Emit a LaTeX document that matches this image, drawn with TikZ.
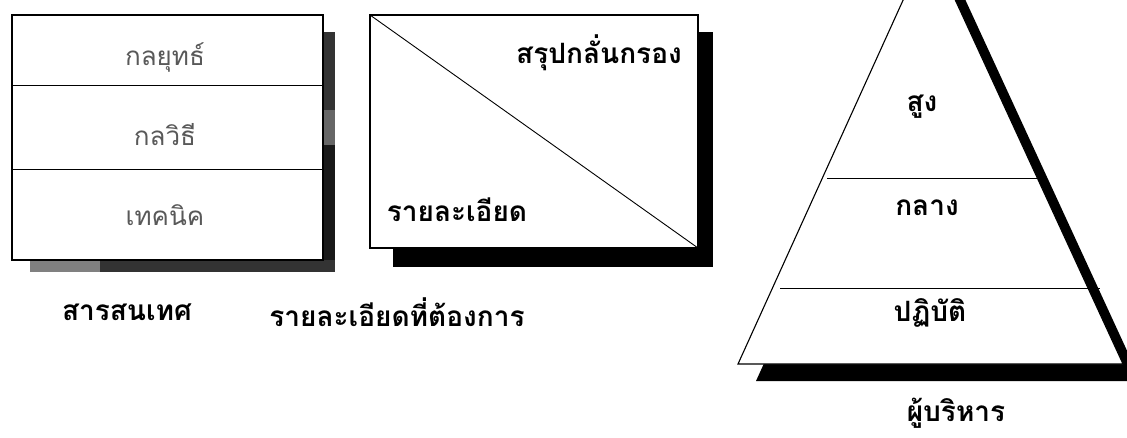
\documentclass[tikz,border=0pt]{standalone}
\usepackage{fontspec}
\newfontfamily\thaifont[Script=Thai]{Loma}
\begin{document}
\begin{tikzpicture}[x=1pt,y=-1pt,
  frame/.style={draw=black,line width=1.1pt,fill=white},
  divider/.style={draw=black,line width=0.9pt},
  shade/.style={fill=black,draw=none},
  lightlbl/.style={font=\thaifont\fontsize{26}{28}\selectfont,text=black!65},
  boldlbl/.style={font=\thaifont\bfseries\fontsize{28}{30}\selectfont,text=black},
  caption/.style={font=\thaifont\bfseries\fontsize{28}{30}\selectfont,text=black}]
\clip (0,0) rectangle (1127,437);
\fill[white] (0,0) rectangle (1127,437);
% ---- Box 1 ----
\fill[black!80] (323,32) rectangle (335,110);
\fill[black!60] (323,110) rectangle (335,145);
\fill[black!90] (323,145) rectangle (335,272);
\fill[black!50] (30,260) rectangle (100,272);
\fill[black!80] (100,260) rectangle (335,272);
\draw[frame] (12,15) rectangle (323,260);
\draw[divider] (12,85) -- (323,85);
\draw[divider] (12,169) -- (323,169);
\node[lightlbl] (strat) at (165,57) {กลยุทธ์};
\node[lightlbl] (tact) at (165,135) {กลวิธี};
\node[lightlbl] (tech) at (165,215) {เทคนิค};
\node[caption] (info) at (127,312) {สารสนเทศ};
% ---- Box 2 ----
\fill[shade] (698,32) rectangle (713,267);
\fill[shade] (393,248) rectangle (713,267);
\draw[frame] (370,15) coordinate (b2tl) rectangle (698,248) coordinate (b2br);
\draw[divider] (b2tl) -- (b2br);
\node[boldlbl] (summ) at (599,53) {สรุปกลั่นกรอง};
\node[boldlbl] (detl) at (457,210) {รายละเอียด};
\node[caption] (need) at (397,312) {รายละเอียดที่ต้องการ};
% ---- Pyramid ----
\coordinate (apex) at (929,-57);
\coordinate (bl) at (738,364);
\coordinate (br) at (1123,364);
\fill[shade] ([shift={(18,17)}]apex) -- ([shift={(18,17)}]bl) -- ([shift={(18,17)}]br) -- cycle;
\draw[frame] (apex) -- (bl) -- (br) -- cycle;
\draw[divider] (827,178) -- (1038,178);
\draw[divider] (780,288) -- (1100,288);
\node[boldlbl] (top) at (922,107) {สูง};
\node[boldlbl] (mid) at (927,208) {กลาง};
\node[boldlbl] (ops) at (930,313) {ปฏิบัติ};
\node[caption] (exec) at (956,413) {ผู้บริหาร};
\end{tikzpicture}
\end{document}
